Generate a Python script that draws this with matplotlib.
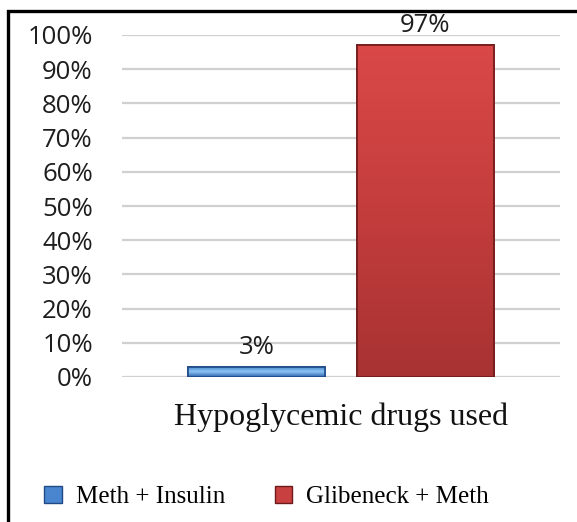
import matplotlib
matplotlib.use('Agg')
import matplotlib.pyplot as plt
import numpy as np
from matplotlib.colors import LinearSegmentedColormap
from matplotlib.patches import Rectangle, Patch

# ---- data ----
category = "Hypoglycemic drugs used"
series = ["Meth + Insulin", "Glibeneck + Meth"]
values = [3, 97]
yticks = [0, 10, 20, 30, 40, 50, 60, 70, 80, 90, 100]
ytick_labels = [f"{t}%" for t in yticks]

# ---- style ----
base_colors = ["#4A86D0", "#C8403F"]
edge_colors = ["#1F4A86", "#6E1A1A"]
grad_colors = [["#2C62AE", "#8CC4F4", "#3E7CC8"],
               ["#A83232", "#C43D3D", "#DA4848"]]
offsets = [-0.193, 0.192]
bar_width = 0.3128

fig = plt.figure(figsize=(5.77, 5.22), dpi=100)
W, H = 577, 522
ax = fig.add_axes([122 / W, 145 / H, 438 / W, 342 / H])

for i, (s, v) in enumerate(zip(series, values)):
    b = ax.bar(offsets[i], v, width=bar_width, color=base_colors[i],
               edgecolor=edge_colors[i], linewidth=1.2, zorder=3, label=s)
    patch = b.patches[0]
    x0, y0 = patch.get_x(), patch.get_y()
    w, h = patch.get_width(), patch.get_height()
    cmap = LinearSegmentedColormap.from_list(f"g{i}", grad_colors[i])
    grad = np.linspace(0, 1, 256).reshape(-1, 1)
    im = ax.imshow(grad, extent=[x0, x0 + w, y0, y0 + h], origin='lower',
                   cmap=cmap, aspect='auto', zorder=3.5)
    im.set_clip_path(patch)
    ax.add_patch(Rectangle((x0, y0), w, h, fill=False, edgecolor=edge_colors[i],
                           linewidth=1.2, zorder=4))
    ax.annotate(f"{v}%", (offsets[i], v), xytext=(0, 5), textcoords='offset points',
                ha='center', va='bottom', fontsize=18.5, family='Open Sans',
                color='#1E1E1E')

ax.set_xlim(-0.5, 0.5)
ax.set_ylim(0, 100)
ax.set_yticks(yticks)
ax.set_yticklabels(ytick_labels, family='Open Sans', fontsize=18.5, color='#1E1E1E')
ax.set_xticks([0])
ax.set_xticklabels([category], family='Liberation Serif', fontsize=23, color='#111111')
ax.tick_params(axis='y', length=0, pad=21)
ax.tick_params(axis='x', length=0, pad=18)
ax.yaxis.grid(True, color='#D0D0D0', linewidth=1.6)
ax.set_axisbelow(True)
for sp in ax.spines.values():
    sp.set_visible(False)

handles = [Patch(facecolor=base_colors[i], edgecolor=edge_colors[i], linewidth=1)
           for i in range(len(series))]
fig.legend(handles, series, loc='center', bbox_to_anchor=(0.462, 0.048), ncol=2,
           frameon=False, prop={'family': 'Liberation Serif', 'size': 18},
           handlelength=0.7, handleheight=0.7, columnspacing=2.0, handletextpad=0.55)

# figure border (left and top visible)
fig.add_artist(Rectangle((8 / W, -0.1), 1.2, (H - 11) / H + 0.1, transform=fig.transFigure,
                         fill=False, edgecolor='black', linewidth=2.4))

fig.savefig('out.png', dpi=100, facecolor='white')
